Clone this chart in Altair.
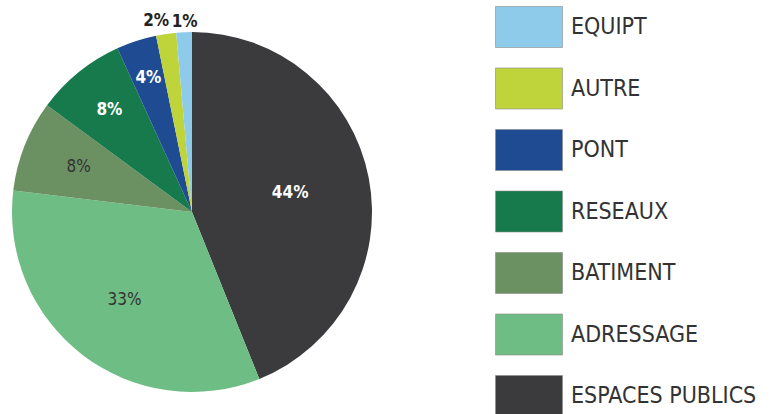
import altair as alt
import pandas as pd

categories = ["ESPACES PUBLICS", "ADRESSAGE", "BATIMENT", "RESEAUX", "PONT", "AUTRE", "EQUIPT"]
shares = [43.9, 33.0, 8.2, 8.1, 3.6, 1.8, 1.4]
colors = ["#3b3a3d", "#6dbd84", "#6b9163", "#167a4c", "#1f4b93", "#bfd33b", "#8ecbea"]
legend_order = ["EQUIPT", "AUTRE", "PONT", "RESEAUX", "BATIMENT", "ADRESSAGE", "ESPACES PUBLICS"]

FONT = "Liberation Sans Narrow, DejaVu Sans Condensed, Liberation Sans, sans-serif"
CX, CY, R = 192, 212, 180

df = pd.DataFrame({"category": categories, "share": shares, "order": list(range(len(categories)))})

color_scale = alt.Scale(domain=legend_order,
                        range=[colors[categories.index(c)] for c in legend_order])

pie = alt.Chart(df).mark_arc(radius=R).encode(
    theta=alt.Theta("share:Q", stack=True),
    order=alt.Order("order:Q"),
    color=alt.Color("category:N", scale=color_scale, legend=alt.Legend(
        title=None, orient="none", legendX=495, legendY=-7,
        symbolType="M-1,-0.612H1V0.612H-1Z", symbolSize=4489,
        symbolStrokeColor="#8a8a8a", symbolStrokeWidth=0.6, symbolOpacity=1,
        labelFont=FONT, labelFontSize=23, labelColor="#333333",
        labelOffset=8, labelLimit=400, rowPadding=5.5, padding=0)),
    x=alt.value(CX), y=alt.value(CY),
)

# label style: (radius, colour, weight, dx)
label_style = {
    "ESPACES PUBLICS": (100, "white", "bold", 0),
    "ADRESSAGE": (111, "#333333", "normal", 0),
    "BATIMENT": (122, "#333333", "normal", 0),
    "RESEAUX": (131, "white", "bold", 0),
    "PONT": (141, "white", "bold", 0),
    "AUTRE": (193, "#222222", "bold", -8),
    "EQUIPT": (190, "#222222", "bold", 1),
}

label_base = alt.Chart(df).transform_joinaggregate(
    total="sum(share)"
).transform_window(
    cum="sum(share)", sort=[alt.SortField("order")], frame=[None, 0]
).transform_calculate(
    mid="(datum.cum - datum.share/2)/datum.total*2*PI",
    label="format(datum.share/100, '.0%')",
)

layers = [pie]
for cat in categories:
    r, col, w, dx = label_style[cat]
    layers.append(
        label_base.transform_filter(alt.datum.category == cat).mark_text(
            radius=r, font=FONT, fontSize=17, fontWeight=w, color=col,
            align="center", baseline="middle", dx=dx
        ).encode(
            theta=alt.Theta("mid:Q", scale=None),
            text="label:N",
            x=alt.value(CX), y=alt.value(CY),
        )
    )

chart = alt.layer(*layers).properties(
    width=774, height=414, autosize="none", padding=0, background="white"
).configure_view(stroke=None)

chart.save("out.html", embed_options={"renderer": "svg", "actions": False})
